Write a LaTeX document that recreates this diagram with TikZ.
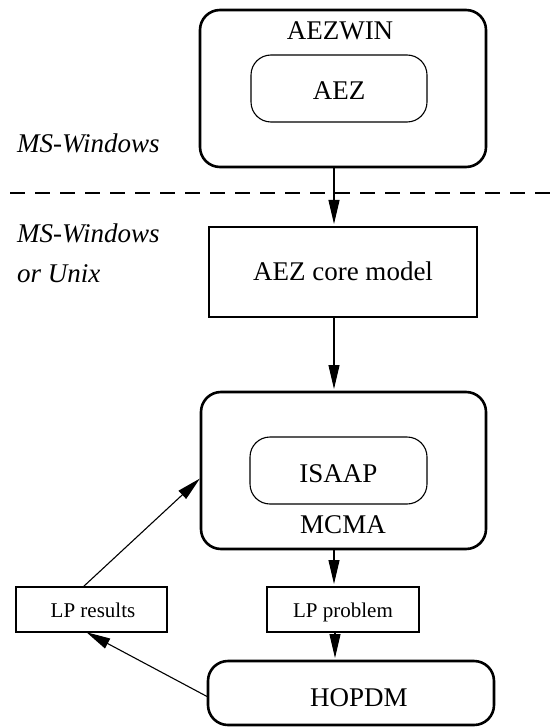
\documentclass[tikz,border=0pt]{standalone}
\usepackage{fontspec}
\setmainfont{Liberation Serif}
\usetikzlibrary{arrows.meta}
\begin{document}
\begin{tikzpicture}[x=1pt,y=-1pt,
  outerbox/.style={draw, line width=2.6pt, rounded corners=20pt, inner sep=0pt, outer sep=0pt},
  innerbox/.style={draw, line width=1.1pt, rounded corners=20pt, inner sep=0pt, outer sep=0pt},
  plainbox/.style={draw, line width=1.1pt, inner sep=0pt, outer sep=0pt},
  lbl/.style={font=\fontsize{27}{32}\selectfont, inner sep=0pt, anchor=base},
  smalllbl/.style={font=\fontsize{21}{25}\selectfont, inner sep=0pt, anchor=base},
  side/.style={font=\fontsize{27}{32}\selectfont\itshape, anchor=base west, inner sep=0pt},
  arr/.style={line width=1.1pt, -{Triangle[length=24pt,width=11pt]}, shorten >=3pt}]
\useasboundingbox (0,0) rectangle (554,727);
% boxes
\node[outerbox, minimum width=286pt, minimum height=157pt] (aezwin) at (343,88.5) {};
\node[innerbox, minimum width=176pt, minimum height=67pt] (aez) at (339,88.5) {};
\node[plainbox, minimum width=268pt, minimum height=90pt] (core) at (343,272) {};
\node[outerbox, minimum width=285pt, minimum height=157pt] (mcma) at (343.5,470.5) {};
\node[innerbox, minimum width=177pt, minimum height=67pt] (isaap) at (338.5,470.5) {};
\node[plainbox, minimum width=151pt, minimum height=45pt] (lpr) at (91.5,609.5) {};
\node[plainbox, minimum width=152pt, minimum height=45pt] (lpp) at (343,609.5) {};
\node[outerbox, minimum width=286pt, minimum height=64pt] (hopdm) at (351,693) {};
% labels
\node[lbl] (taezwin) at (340,40) {AEZWIN};
\node[lbl] (taez) at (339,100) {AEZ};
\node[lbl] (tcore) at (343,280) {AEZ core model};
\node[lbl] (tisaap) at (338.5,482) {ISAAP};
\node[lbl] (tmcma) at (343,533) {MCMA};
\node[lbl] (thopdm) at (359,706) {HOPDM};
\node[smalllbl] (tlpr) at (93,617) {LP results};
\node[smalllbl] (tlpp) at (343,617) {LP problem};
\node[side] (s1) at (17,153) {MS-Windows};
\node[side] (s2) at (17,242) {MS-Windows};
\node[side] (s3) at (17,282) {or Unix};
% separator
\coordinate (dl) at (10,193);
\coordinate (dr) at (554,193);
\draw[line width=1.1pt, dash pattern=on 15pt off 10pt] (dl) -- (dr);
% arrows
\coordinate (ax) at (334,0);
\coordinate (bx) at (335,0);
\draw[arr] (aezwin.south -| ax) -- (core.north -| ax);
\draw[arr] (core.south -| ax) -- (mcma.north -| ax);
\draw[arr] (mcma.south -| ax) -- (lpp.north -| ax);
\draw[arr] (lpp.south -| bx) -- (hopdm.north -| bx);
\draw[arr, shorten >=1.5pt] ([xshift=-8.5pt]lpr.north) -- ([yshift=-7pt]mcma.west);
\draw[arr, shorten >=0.5pt] ([yshift=-4pt]hopdm.west) -- ([xshift=-5.5pt]lpr.south);
\end{tikzpicture}
\end{document}
